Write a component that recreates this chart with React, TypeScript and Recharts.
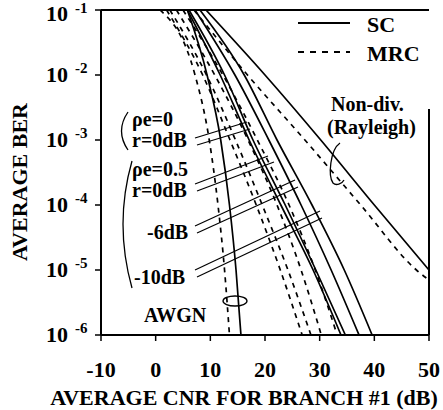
import { LineChart, Line, XAxis, YAxis, ReferenceLine } from "recharts";

const berLevels = [1e-1, 1e-2, 1e-3, 1e-4, 1e-5, 1e-6];
const rayleighScBer = [1e-1, 1e-2, 1e-3, 1e-4, 1e-5];
const rayleighMrcBer = [1e-1, 1e-2, 1e-3, 1e-4, 1e-5, 7e-6];

// CNR (dB) where each curve crosses the levels above
const awgnSc = [5.8, 9.4, 11.9, 13.5, 14.7, 15.6];
const awgnMrc = [0.8, 7.2, 9.8, 11.4, 12.6, 13.5];
const scRho0 = [5.8, 11.8, 17.1, 22.9, 28.8, 33.9];
const scRho05 = [6.1, 12.6, 17.8, 23.7, 29.3, 34.7];
const scR6 = [7.2, 14.5, 20.7, 26.6, 32.1, 37.2];
const scR10 = [8.1, 16.2, 22.2, 28.6, 34.5, 39.6];
const mrcRho0 = [2.0, 8.6, 13.6, 18.4, 22.8, 26.8];
const mrcRho05 = [2.6, 9.3, 14.6, 19.5, 24.2, 28.4];
const mrcR6 = [3.8, 10.8, 16.9, 22.2, 26.6, 30.3];
const mrcR10 = [5.0, 12.3, 18.6, 24.4, 29.2, 33.2];
const rayleighSc = [9.2, 20.0, 30.2, 40.0, 50.0];
const rayleighMrc = [7.0, 16.8, 27.3, 37.5, 47.7, 50.0];

const xTicks = [-10, 0, 10, 20, 30, 40, 50];
const yTicks = [1e-6, 1e-5, 1e-4, 1e-3, 1e-2, 1e-1];

const toPoints = (cnr: number[], ber: number[]) => cnr.map((x, i) => ({ x, y: ber[i] }));

const series = [
  { name: "AWGN SC", data: toPoints(awgnSc, berLevels), dashed: false },
  { name: "AWGN MRC", data: toPoints(awgnMrc, berLevels), dashed: true },
  { name: "SC rho0", data: toPoints(scRho0, berLevels), dashed: false },
  { name: "SC rho0.5", data: toPoints(scRho05, berLevels), dashed: false },
  { name: "SC -6", data: toPoints(scR6, berLevels), dashed: false },
  { name: "SC -10", data: toPoints(scR10, berLevels), dashed: false },
  { name: "MRC rho0", data: toPoints(mrcRho0, berLevels), dashed: true },
  { name: "MRC rho0.5", data: toPoints(mrcRho05, berLevels), dashed: true },
  { name: "MRC -6", data: toPoints(mrcR6, berLevels), dashed: true },
  { name: "MRC -10", data: toPoints(mrcR10, berLevels), dashed: true },
  { name: "Rayleigh SC", data: toPoints(rayleighSc, rayleighScBer), dashed: false },
  { name: "Rayleigh MRC", data: toPoints(rayleighMrc, rayleighMrcBer), dashed: true },
];

const textStyle = {
  fontFamily: '"Liberation Serif", "Times New Roman", serif',
  fontWeight: 700,
  fill: "#000",
};

const XTick = ({ x, y, payload }: any) => (
  <text x={x} y={y + 36} textAnchor="middle" fontSize={22} style={textStyle}>
    {payload.value}
  </text>
);

const YTick = ({ y, payload }: any) => {
  const exp = Math.round(Math.log10(payload.value));
  return (
    <g>
      <text x={46} y={Math.max(y + 7, 21)} fontSize={22} style={textStyle}>10</text>
      <text x={75} y={Math.max(y - 2, 13)} fontSize={15} style={textStyle}>{exp}</text>
    </g>
  );
};

const Overlay = () => (
  <svg
    width={443}
    height={410}
    style={{ position: "absolute", left: 0, top: 0, pointerEvents: "none" }}
  >
    <g fontSize={22} style={textStyle}>
      {/* axis titles */}
      <text x={27} y={182} textAnchor="middle" transform="rotate(-90 27 182)">AVERAGE BER</text>
      <text x={244} y={405} textAnchor="middle">AVERAGE CNR FOR BRANCH #1 (dB)</text>

      {/* legend */}
      <text x={367} y={32}>SC</text>
      <text x={367} y={61}>MRC</text>
    </g>

    <g fontSize={20} style={textStyle}>
      {/* Rayleigh label */}
      <text x={331} y={111}>Non-div.</text>
      <text x={327} y={134}>(Rayleigh)</text>

      {/* case labels */}
      <text x={132} y={126}>ρe=0</text>
      <text x={132} y={147}>r=0dB</text>
      <text x={132} y={176}>ρe=0.5</text>
      <text x={132} y={197}>r=0dB</text>
      <text x={147} y={239}>-6dB</text>
      <text x={134} y={284}>-10dB</text>
      <text x={144} y={322}>AWGN</text>
    </g>

    <line x1={298} y1={23} x2={350} y2={23} stroke="#000" strokeWidth={1.8} />
    <line x1={298} y1={52} x2={350} y2={52} stroke="#000" strokeWidth={1.8} strokeDasharray="6 6" />

    <g fill="none" stroke="#000" strokeWidth={1.3}>
      <path d="M 340 143 C 330 150, 328 176, 333 183 C 336 186, 342 184, 344 180" />
      <path d="M 128 112 Q 115 131 128 150" />
      <path d="M 132 161 Q 114 224 132 288" />
      <ellipse cx={235} cy={301} rx={12} ry={5} />
    </g>

    {/* leader lines */}
    <g stroke="#000" strokeWidth={1.2}>
      <line x1={195} y1={138} x2={247} y2={122} />
      <line x1={197} y1={145} x2={250} y2={129} />
      <line x1={195} y1={184} x2={268} y2={156} />
      <line x1={197} y1={191} x2={274} y2={162} />
      <line x1={195} y1={226} x2={295} y2={180} />
      <line x1={197} y1={233} x2={298} y2={187} />
      <line x1={195} y1={270} x2={320} y2={211} />
      <line x1={197} y1={277} x2={322} y2={218} />
    </g>
  </svg>
);

export default function App() {
  return (
    <div style={{ position: "absolute", left: 0, top: 0, width: 443, height: 410, background: "#fff" }}>
      <LineChart width={443} height={410} margin={{ top: 10, right: 14, bottom: 0, left: 0 }}>
        <XAxis
          type="number"
          dataKey="x"
          domain={[-10, 50]}
          ticks={xTicks}
          allowDataOverflow
          height={75}
          tickSize={6}
          tickMargin={0}
          tick={<XTick />}
          axisLine={{ stroke: "#000", strokeWidth: 2 }}
          tickLine={{ stroke: "#000", strokeWidth: 1.5 }}
        />
        <YAxis
          type="number"
          scale="log"
          domain={[1e-6, 1e-1]}
          ticks={yTicks}
          allowDataOverflow
          width={101}
          tickSize={6}
          tick={<YTick />}
          axisLine={{ stroke: "#000", strokeWidth: 2 }}
          tickLine={{ stroke: "#000", strokeWidth: 1.5 }}
        />
        <ReferenceLine y={0.1} stroke="#000" strokeWidth={2} />
        <ReferenceLine
          segment={[
            { x: 50, y: 1e-6 },
            { x: 50, y: 3e-3 },
          ]}
          stroke="#000"
          strokeWidth={2}
        />
        {series.map((s) => (
          <Line
            key={s.name}
            data={s.data}
            dataKey="y"
            type="monotone"
            stroke="#000"
            strokeWidth={1.7}
            strokeDasharray={s.dashed ? "5 5" : undefined}
            dot={false}
            activeDot={false}
            isAnimationActive={false}
          />
        ))}
      </LineChart>
      <Overlay />
    </div>
  );
}
